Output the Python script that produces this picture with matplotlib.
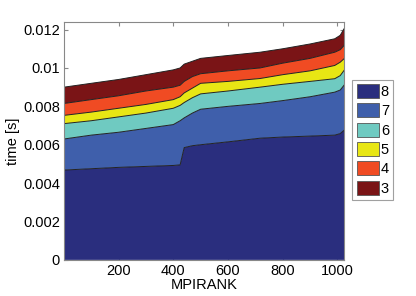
import matplotlib
matplotlib.use("Agg")
import matplotlib.pyplot as plt
import numpy as np

plt.rcParams['font.family'] = ['Liberation Sans', 'DejaVu Sans']

ranks = [1, 100, 200, 300, 400, 425, 440, 470, 500, 600, 717, 800, 900, 990, 1010, 1024]

# cumulative top of each stacked layer (ms), bottom layer first
top8 = [4.68, 4.75, 4.82, 4.87, 4.92, 4.95, 5.85, 5.95, 6.00, 6.15, 6.34, 6.40, 6.45, 6.50, 6.58, 6.75]
top7 = [6.30, 6.50, 6.65, 6.85, 7.05, 7.25, 7.40, 7.65, 7.85, 8.00, 8.15, 8.30, 8.50, 8.74, 8.85, 9.10]
top6 = [7.10, 7.25, 7.45, 7.65, 7.90, 8.05, 8.20, 8.45, 8.65, 8.80, 9.00, 9.15, 9.30, 9.44, 9.60, 9.87]
top5 = [7.53, 7.70, 7.90, 8.10, 8.35, 8.50, 8.70, 8.95, 9.20, 9.30, 9.45, 9.65, 9.85, 10.13, 10.30, 10.48]
top4 = [8.15, 8.35, 8.55, 8.80, 9.00, 9.10, 9.30, 9.55, 9.70, 9.85, 10.00, 10.25, 10.50, 10.82, 10.95, 11.17]
top3 = [9.00, 9.20, 9.40, 9.65, 9.90, 10.00, 10.20, 10.35, 10.50, 10.65, 10.82, 11.00, 11.25, 11.52, 11.70, 12.04]

labels = ["8", "7", "6", "5", "4", "3"]
colors = ["#2a2e7e", "#3f5fab", "#6fcac1", "#e8e614", "#f04b23", "#7a1416"]

tops = [np.array(t) * 1e-3 for t in [top8, top7, top6, top5, top4, top3]]

fig = plt.figure(figsize=(4.16, 2.96), dpi=100)
ax = fig.add_axes([0.154, 0.122, 0.673, 0.804])

lower = np.zeros(len(ranks))
for upper, col, lab in zip(tops, colors, labels):
    ax.fill_between(ranks, lower, upper, facecolor=col, edgecolor="none",
                    label=lab, zorder=2)
    ax.plot(ranks, upper, color="#222222", lw=0.7, zorder=3)
    lower = upper

ax.set_xlim(1, 1024)
ax.set_ylim(0, 0.0124)
ax.set_xticks([200, 400, 600, 800, 1000])
ax.set_yticks([0, 0.002, 0.004, 0.006, 0.008, 0.01, 0.012])
ax.set_yticklabels(["0", "0.002", "0.004", "0.006", "0.008", "0.01", "0.012"])
ax.tick_params(direction="in", top=True, right=True, labelsize=10.5, length=3,
               color="#888888", pad=3)
for s in ax.spines.values():
    s.set_color("#888888")
    s.set_linewidth(0.8)
    s.set_zorder(4)

ax.set_xlabel("MPIRANK", fontsize=10.5, labelpad=0)
ax.set_ylabel("time [s]", fontsize=10.5, labelpad=2)

leg = ax.legend(loc="center left", bbox_to_anchor=(1.03, 0.505), fontsize=10.5,
                frameon=True, fancybox=False, edgecolor="#888888",
                handlelength=1.5, handleheight=1.1, handletextpad=0.15,
                labelspacing=0.3, borderpad=0.3, borderaxespad=0)
leg.get_frame().set_linewidth(0.8)
for h in leg.legend_handles:
    h.set_edgecolor("#555555")
    h.set_linewidth(0.6)

fig.savefig("out.png", dpi=100)
